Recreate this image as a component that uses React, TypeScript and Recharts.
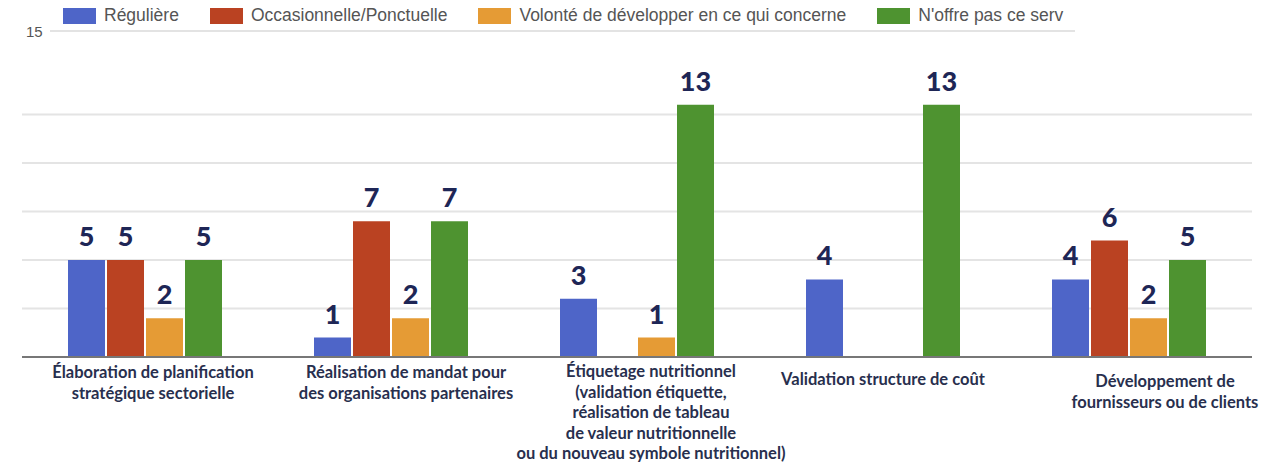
import React from 'react';
import { BarChart, Bar, XAxis, YAxis, CartesianGrid, LabelList } from 'recharts';

const categories = [
  'Élaboration de planification stratégique sectorielle',
  'Réalisation de mandat pour des organisations partenaires',
  'Étiquetage nutritionnel',
  'Validation structure de coût',
  'Développement de fournisseurs ou de clients',
];

const categoryLines = [
  ['Élaboration de planification', 'stratégique sectorielle'],
  ['Réalisation de mandat pour', 'des organisations partenaires'],
  [
    'Étiquetage nutritionnel',
    '(validation étiquette,',
    'réalisation de tableau',
    'de valeur nutritionnelle',
    'ou du nouveau symbole nutritionnel)',
  ],
  ['Validation structure de coût'],
  ['Développement de', 'fournisseurs ou de clients'],
];

const reguliere = [5, 1, 3, 4, 4];
const occasionnelle = [5, 7, 0, 0, 6];
const volonte = [2, 2, 1, 0, 2];
const noffrePas = [5, 7, 13, 13, 5];

const yTicks = [0, 2.5, 5, 7.5, 10, 12.5];

const series = [
  { key: 'reguliere', name: 'Régulière', color: '#4e65c8' },
  { key: 'occasionnelle', name: 'Occasionnelle/Ponctuelle', color: '#ba4222' },
  { key: 'volonte', name: 'Volonté de développer en ce qui concerne', color: '#e59b35' },
  { key: 'noffre', name: "N'offre pas ce serv", color: '#4e9330' },
];

// label nudges so the wrapped category text sits like the original
const labelShift = [
  [8, 0],
  [15, 0],
  [14, -1],
  [0, 7],
  [36, 9],
];

const data = categories.map((name, i) => ({
  name,
  reguliere: reguliere[i],
  occasionnelle: occasionnelle[i],
  volonte: volonte[i],
  noffre: noffrePas[i],
}));

const CategoryTick = (props: any) => {
  const { x, y, index } = props;
  const lines = categoryLines[index] || [];
  const [dx, dy] = labelShift[index] || [0, 0];
  return (
    <text
      x={x + dx}
      y={y + dy}
      textAnchor="middle"
      fill="#282f4e"
      fontFamily="Lato, sans-serif"
      fontWeight={700}
      fontSize={16.5}
    >
      {lines.map((l, i) => (
        <tspan key={i} x={x + dx} dy={i === 0 ? 19 : 20.6}>
          {l}
        </tspan>
      ))}
    </text>
  );
};

const hideZero = (v: any) => (v ? v : '');

export default function App() {
  return (
    <div style={{ position: 'absolute', left: 0, top: 0, width: 1263, height: 466, background: '#fff' }}>
      <div style={{ position: 'absolute', left: 0, top: 0, width: 1263, height: 40, fontFamily: 'Liberation Sans, Arial, sans-serif' }}>
        <span style={{ position: 'absolute', left: 26, top: 23, fontSize: 15, color: '#555' }}>15</span>
        <div style={{ position: 'absolute', left: 50, top: 30, width: 1025, height: 2, background: '#e3e3e3' }} />
        <div style={{ position: 'absolute', left: 63, top: 5, display: 'flex', alignItems: 'center', whiteSpace: 'nowrap' }}>
          {series.map((s) => (
            <div key={s.key} style={{ display: 'flex', alignItems: 'center', marginRight: 31 }}>
              <div style={{ width: 33, height: 16, background: s.color, marginRight: 8 }} />
              <span style={{ fontSize: 17.5, color: '#555' }}>{s.name}</span>
            </div>
          ))}
        </div>
      </div>
      <BarChart
        width={1263}
        height={466}
        data={data}
        margin={{ top: 66, right: 11, left: 22, bottom: 0 }}
        barCategoryGap={46}
        barGap={2}
      >
        <CartesianGrid horizontal vertical={false} horizontalValues={yTicks} stroke="#e4e4e4" strokeWidth={2} />
        <YAxis hide domain={[0, 15]} ticks={yTicks} />
        <XAxis
          dataKey="name"
          height={109}
          tickSize={0}
          tickLine={false}
          axisLine={{ stroke: '#777', strokeWidth: 2 }}
          tick={<CategoryTick />}
          interval={0}
        />
        {series.map((s) => (
          <Bar key={s.key} dataKey={s.key} name={s.name} fill={s.color} isAnimationActive={false}>
            <LabelList
              dataKey={s.key}
              position="top"
              offset={14}
              formatter={hideZero}
              fill="#1e2656"
              fontFamily="Lato, sans-serif"
              fontWeight={900}
              fontSize={27}
            />
          </Bar>
        ))}
      </BarChart>
    </div>
  );
}
